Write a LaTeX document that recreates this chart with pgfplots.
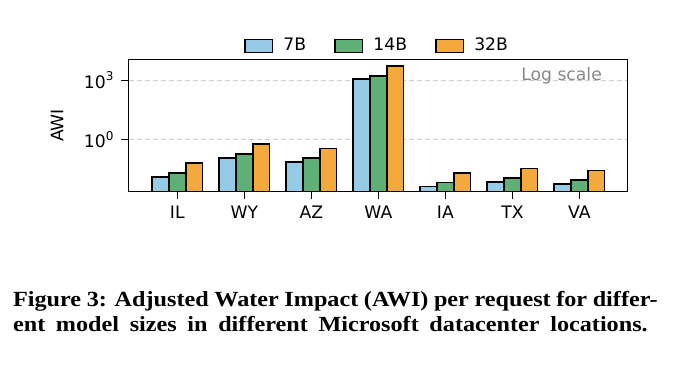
\documentclass[border=0pt]{standalone}
\usepackage{fontspec}
\setmainfont{DejaVu Sans}
\newfontfamily\capfont{Liberation Serif}[FakeStretch=1.12]
\usepackage{pgfplots}
\pgfplotsset{compat=1.18}
\definecolor{c7}{HTML}{96CBE8}
\definecolor{c14}{HTML}{5FB076}
\definecolor{c32}{HTML}{F3A93B}
\definecolor{gridc}{HTML}{CCCCCC}
\definecolor{lgray}{HTML}{888888}
\pgfplotsset{
  mypatch/.style={legend image code/.code={\draw[##1, line width=0.75pt] (0pt,-3.3pt) rectangle (13.85pt,3.3pt);}},
}
\newcommand\capline[2]{\hbox to #1{\capfont\bfseries\fontsize{10.8}{12.85}\selectfont\spaceskip=0.25em plus 1em minus 0.1em #2}}
\begin{document}
\begin{tikzpicture}[x=1pt,y=1pt]
\path[use as bounding box] (0,0) rectangle (337,188);
\begin{axis}[
  at={(64.25pt,92.15pt)}, anchor=south west,
  scale only axis, width=249.6pt, height=66.2pt,
  ymode=log, log origin=infty,
  ymin=0.00235, ymax=11530,
  xmin=-0.728, xmax=6.72,
  ybar=0pt, bar width=0.25,
  xtick={0,...,6}, xticklabels={IL,WY,AZ,WA,IA,TX,VA},
  ytick={1,1000}, yticklabels={10\textsuperscript{0},10\textsuperscript{3}},
  yminorticks=false, xminorticks=false,
  tick align=outside, xtick pos=bottom, ytick pos=left,
  major tick length=3.5pt,
  tick style={black, line width=0.75pt},
  axis line style={line width=0.75pt},
  ymajorgrids, grid style={gridc, dash pattern=on 2.5pt off 1.5pt, line width=0.6pt},
  tick label style={font=\fontsize{8.6}{10}\selectfont},
  every axis y label/.style={at={(axis description cs:-0.1432,0.5)}, rotate=90, anchor=center, font=\fontsize{8.6}{10}\selectfont},
  ylabel={AWI},
  legend style={at={(axis description cs:0.5,1)}, anchor=center, yshift=6.65pt, draw=none, fill=none,
    legend columns=-1, font=\fontsize{8.6}{10}\selectfont,
    /tikz/every odd column/.append style={column sep=3pt},
    /tikz/every even column/.append style={column sep=12pt}},
]
\addplot[draw=black, line width=0.9pt, fill=c7, mypatch] coordinates {(0,0.0135) (1,0.123) (2,0.078) (3,1165) (4,0.0043) (5,0.0072) (6,0.0056)};
\addplot[draw=black, line width=0.9pt, fill=c14, mypatch] coordinates {(0,0.0214) (1,0.19) (2,0.115) (3,1700) (4,0.0068) (5,0.0112) (6,0.0091)};
\addplot[draw=black, line width=0.9pt, fill=c32, mypatch] coordinates {(0,0.069) (1,0.60) (2,0.36) (3,5500) (4,0.0214) (5,0.035) (6,0.028)};
\legend{7B,14B,32B}
\node[anchor=base east, text=lgray, inner sep=0pt, font=\fontsize{8.6}{10}\selectfont] at (axis cs:6.34,1000) {Log scale};
\end{axis}
\node[anchor=base west, inner sep=0pt] at (6.35,35) {\capline{322.3pt}{Figure 3: Adjusted Water Impact (AWI) per request for differ-}};
\node[anchor=base west, inner sep=0pt] at (6.35,22.15) {\capline{317.3pt}{ent model sizes in different Microsoft datacenter locations.}};
\end{tikzpicture}
\end{document}
